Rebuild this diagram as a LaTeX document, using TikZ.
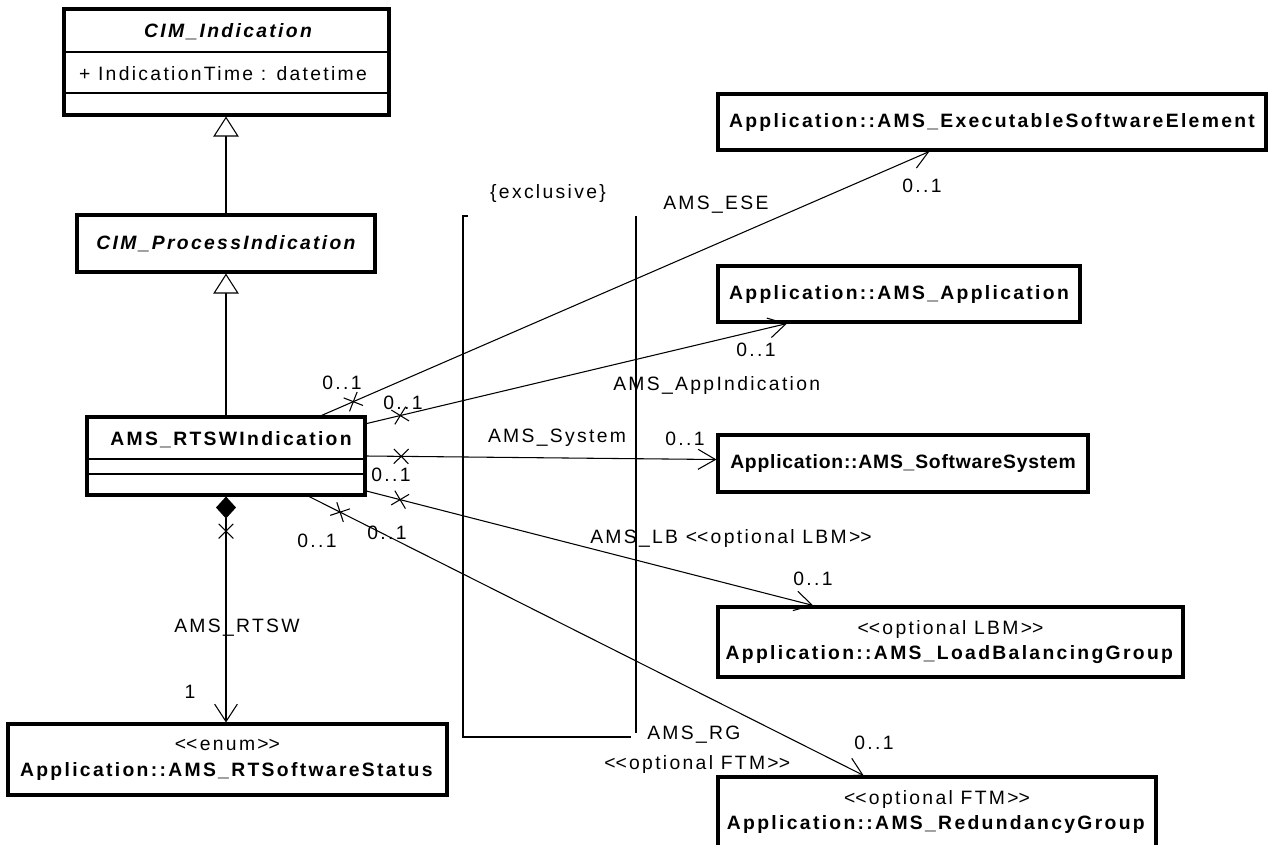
\documentclass[tikz,border=0pt]{standalone}
\usepackage{fontspec}
\setmainfont{Liberation Sans}[LetterSpace=12]
\newfontfamily\narrowsf{Liberation Sans}[LetterSpace=4]
\usetikzlibrary{arrows.meta,decorations.markings}
\newcommand{\stereo}[1]{\textless\kern0pt\textless #1\textgreater\kern0pt\textgreater}
\tikzset{
  classbox/.style={draw, line width=2.3pt, rectangle},
  nonav/.style={postaction={decorate, decoration={markings,
      mark=at position 26pt with {\draw[arrows=-, line width=0.8pt] (-5.5pt,-5.5pt) -- (5.5pt,5.5pt) (-5.5pt,5.5pt) -- (5.5pt,-5.5pt);}}}},
  assoc/.style={line width=0.8pt, -{Straight Barb[length=13pt,width=15pt,line width=0.8pt]}, nonav},
  gen/.style={line width=0.8pt, -{Triangle[open,fill=white,length=15pt,width=19pt,line width=0.8pt]}},
  comp/.style={line width=0.8pt, {Diamond[length=16.5pt,width=15pt]}-{Straight Barb[length=13pt,width=17pt,line width=0.8pt]}, nonav}
}
\begin{document}
\begin{tikzpicture}[x=0.75pt, y=-0.75pt, every node/.style={inner sep=0pt, font=\fontsize{14.5}{17.4}\selectfont}]
\useasboundingbox[fill=white] (0,0) rectangle (1271,844);

\node[classbox, minimum width=243.75pt, minimum height=79.5pt] (ind) at (226.5,62) {};
\node[font=\fontsize{14.5}{17.4}\selectfont\bfseries\itshape] (indname) at (228,32) {CIM\_Indication};
\node (indattr) at (223,74) {+ IndicationTime : datetime};
\draw[line width=0.8pt] (64,52) -- (389,52);
\draw[line width=0.8pt] (64,93) -- (389,93);

\node[classbox, minimum width=223.5pt, minimum height=42.75pt, font=\fontsize{14.5}{17.4}\selectfont\bfseries\itshape] (proc) at (226,243.5) {CIM\_ProcessIndication};

\node[classbox, minimum width=208.5pt, minimum height=58.5pt] (rtsw) at (226,456) {};
\node[font=\fontsize{14.5}{17.4}\selectfont\bfseries] (rtswname) at (231,440) {AMS\_RTSWIndication};
\draw[line width=0.8pt] (87,459) -- (365,459);
\draw[line width=0.8pt] (87,474) -- (365,474);

\node[classbox, minimum width=329.25pt, minimum height=53.25pt, align=center] (status) at (227.5,759.5) {\stereo{enum}\\[2pt]\textbf{Application::AMS\_RTSoftwareStatus}};

\node[classbox, minimum width=411pt, minimum height=42pt, font=\fontsize{14.5}{17.4}\selectfont\bfseries] (ese) at (992,122) {Application::AMS\_ExecutableSoftwareElement};
\node[classbox, minimum width=271.5pt, minimum height=42pt, font=\fontsize{14.5}{17.4}\selectfont\bfseries] (app) at (899,294) {Application::AMS\_Application};
\node[classbox, minimum width=277.5pt, minimum height=42.75pt, font=\fontsize{14.5}{17.4}\selectfont\narrowsf\bfseries] (sys) at (903,463.5) {Application::AMS\_SoftwareSystem};
\node[classbox, minimum width=348.75pt, minimum height=52.5pt, align=center] (lbg) at (950.5,642) {\stereo{optional LBM}\\[2pt]\textbf{Application::AMS\_LoadBalancingGroup}};
\node[classbox, minimum width=328.5pt, minimum height=52.5pt, align=center] (rg) at (937,812) {\stereo{optional FTM}\\[2pt]\textbf{Application::AMS\_RedundancyGroup}};

\draw[gen] (proc.north) -- (proc.north |- ind.south);
\draw[gen] (rtsw.north) -- (rtsw.north |- proc.south);

\draw[comp] (rtsw.south) -- (rtsw.south |- status.north);
\node (rtswlbl) at (237,628) {AMS\_RTSW};
\node (rtswmult) at (190,692) {1};

\draw[line width=0.8pt] (468,216) -- (463,216) -- (463,737) -- (631,737);
\draw[line width=0.8pt] (636,216) -- (636,733);
\node (excl) at (548,193) {\{exclusive\}};

\draw[assoc] (rtsw.23.7) -- ([xshift=-47pt]ese.south);
\draw[assoc] (rtsw.13.7) -- ([xshift=-84pt]app.south);
\draw[assoc] (rtsw.east) -- ([yshift=3pt]sys.west);
\draw[assoc] (rtsw.-14.5) -- ([xshift=-103pt]lbg.north);
\draw[assoc] (rtsw.-26.9) -- ([xshift=-55pt]rg.north);

\node[anchor=west] (eselbl) at (663,205) {AMS\_ESE};
\node[anchor=west] (applbl) at (613,385) {AMS\_AppIndication};
\node (syslbl) at (557,438) {AMS\_System};
\node[anchor=west] (lblbl) at (590,538) {AMS\_LB \stereo{optional LBM}};
\node[anchor=west] (rglbl) at (647,735) {AMS\_RG};
\node[anchor=west] (rgstereo) at (604,764) {\stereo{optional FTM}};

\node (esenear) at (342,383) {0..1};
\node (esefar) at (922,186) {0..1};
\node (appnear) at (403,403) {0..1};
\node (appfar) at (756,350) {0..1};
\node (sysnear) at (391,475) {0..1};
\node (sysfar) at (685,439) {0..1};
\node (lbnear) at (387,533) {0..1};
\node (lbfar) at (813,579) {0..1};
\node (rgnear) at (317,541) {0..1};
\node (rgfar) at (874,743) {0..1};
\end{tikzpicture}
\end{document}
